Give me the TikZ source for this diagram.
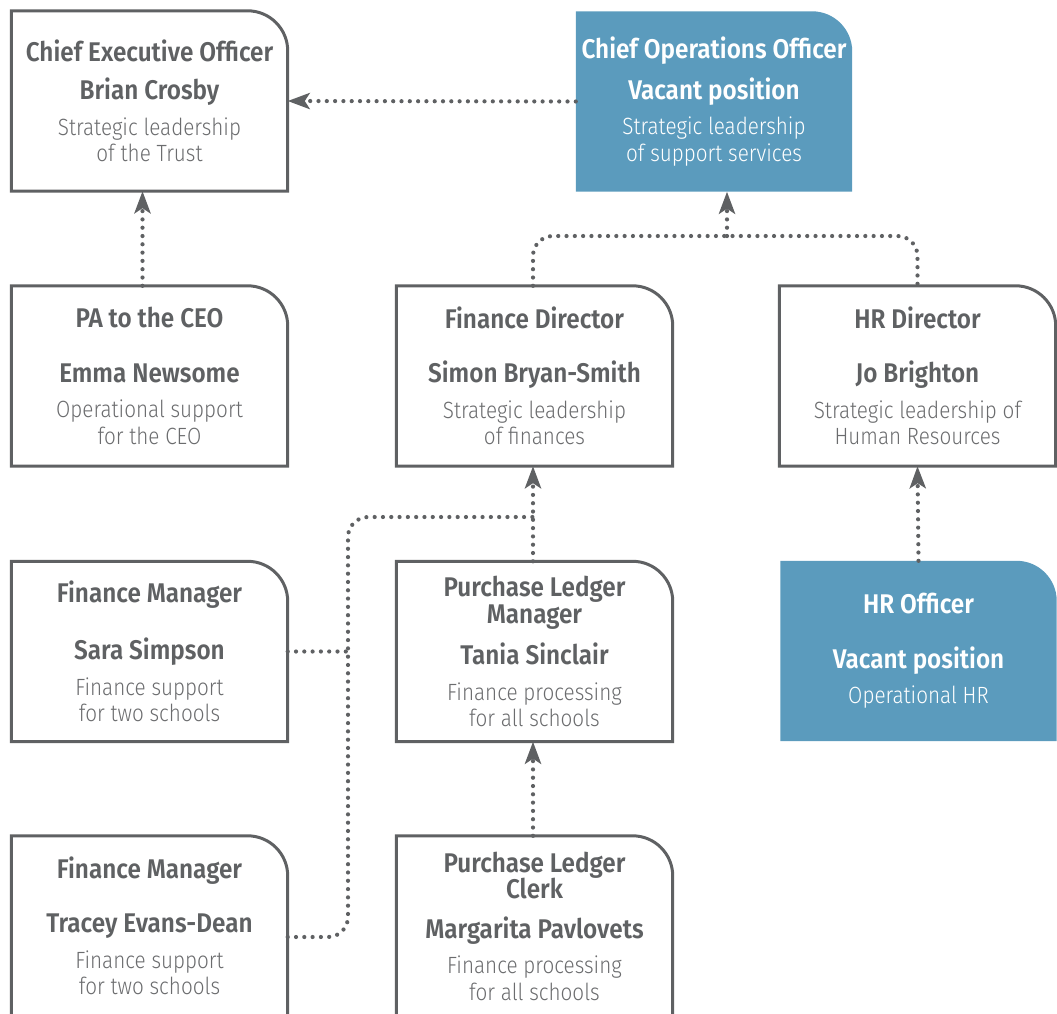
\documentclass[tikz,border=0pt]{standalone}
\usepackage{fontspec}
\usetikzlibrary{arrows.meta,backgrounds}
\newfontfamily\headfont{Fira Sans SemiBold}[FakeStretch=0.9]
\newfontfamily\descfont{Fira Sans Light}[FakeStretch=0.88]

\definecolor{cardgray}{HTML}{5F6163}
\definecolor{descgray}{HTML}{6B6C6E}
\definecolor{vacantblue}{HTML}{5B9BBD}

\newcommand{\ttl}[1]{{\headfont\fontsize{27}{26.5}\selectfont #1}}
\newcommand{\dsc}[1]{{\descfont\fontsize{23.5}{26.5}\selectfont\color{descgray} #1}}
\newcommand{\vdsc}[1]{{\descfont\fontsize{23.5}{26.5}\selectfont #1}}

\tikzset{
  card/.style={minimum width=276pt, minimum height=180pt, inner sep=0pt,
    align=center, text=cardgray, font=\headfont\fontsize{27}{26.5}\selectfont},
  vacant/.style={card, text=white},
  link/.style={draw=cardgray, line width=4.2pt, line cap=round,
    dash pattern=on 0pt off 8.3pt},
  tolink/.style={link, -{Stealth[length=22pt,width=16pt,inset=5pt]}},
}

% box outline with one rounded corner
\newcommand{\cardshape}[1]{%
  (#1.south west) -- (#1.north west) -- ([xshift=-40pt]#1.north east)
  .. controls ([xshift=-18pt]#1.north east) and ([yshift=-18pt]#1.north east)
  .. ([yshift=-40pt]#1.north east) -- (#1.south east) -- cycle}

\begin{document}
\begin{tikzpicture}[x=1pt,y=-1pt]
\useasboundingbox (0,0) rectangle (1057,1013);

% top row
\node[card] (ceo) at (149.5,101) {\ttl{Chief Executive Officer}\\[12pt]
  Brian Crosby\\[9pt] \dsc{Strategic leadership}\\ \dsc{of the Trust}};
\node[vacant] (coo) at (714,101.5) {\ttl{Chief Operations Officer}\\[12pt]
  Vacant position\\[9pt] \vdsc{Strategic leadership}\\ \vdsc{of support services}};

% second row
\node[card] (pa) at (149.5,376) {PA to the CEO\\[28pt]
  Emma Newsome\\[9pt] \dsc{Operational support}\\ \dsc{for the CEO}};
\node[card] (fd) at (534.5,376) {Finance Director\\[28pt]
  Simon Bryan-Smith\\[9pt] \dsc{Strategic leadership}\\ \dsc{of finances}};
\node[card] (hrd) at (917.5,376) {HR Director\\[28pt]
  Jo Brighton\\[9pt] \dsc{Strategic leadership of}\\ \dsc{Human Resources}};

% third row
\node[card] (fm1) at (149.5,651.5) {Finance Manager\\[28pt]
  Sara Simpson\\[9pt] \dsc{Finance support}\\ \dsc{for two schools}};
\node[card] (plm) at (534.5,651.5) {Purchase Ledger\\ Manager\\[13pt]
  Tania Sinclair\\[9pt] \dsc{Finance processing}\\ \dsc{for all schools}};
\node[vacant] (hro) at (918.5,651) {HR Officer\\[28pt]
  Vacant position\\[9pt] \vdsc{Operational HR}};

% fourth row
\node[card] (fm2) at (149.5,926) {Finance Manager\\[28pt]
  Tracey Evans-Dean\\[9pt] \dsc{Finance support}\\ \dsc{for two schools}};
\node[card] (plc) at (534.5,926) {Purchase Ledger\\ Clerk\\[13pt]
  Margarita Pavlovets\\[9pt] \dsc{Finance processing}\\ \dsc{for all schools}};

\begin{scope}[on background layer]
  \foreach \n in {ceo,pa,fd,hrd,fm1,plm,fm2,plc}
    \draw[cardgray, line width=3pt] \cardshape{\n};
  \foreach \n in {coo,hro}
    \fill[vacantblue] \cardshape{\n};
\end{scope}

% reporting lines
\coordinate (opsjoin) at (727,236);
\coordinate (finjoin) at (348,517);

\draw[tolink] (coo.west) -- (ceo.east);
\draw[tolink] ([xshift=-7pt]pa.north) -- ([xshift=-7pt]ceo.south);
\draw[link, rounded corners=20pt] ([xshift=-1.5pt]fd.north) |- (opsjoin) -| (hrd.north);
\draw[tolink] (opsjoin) -- (opsjoin |- coo.south);
\draw[tolink] ([xshift=-1.5pt]plm.north) -- ([xshift=-1.5pt]fd.south);
\draw[tolink] ([xshift=-1.5pt]plc.north) -- ([xshift=-1.5pt]plm.south);
\draw[tolink] (hro.north) -- (hrd.south);
\draw[link] (fm1.east) -- (fm1.east -| finjoin);
\draw[link, rounded corners=20pt] ([yshift=-11pt]fm2.east) -| (finjoin) -- ([xshift=-1.5pt]finjoin -| plm.north);
\end{tikzpicture}
\end{document}
